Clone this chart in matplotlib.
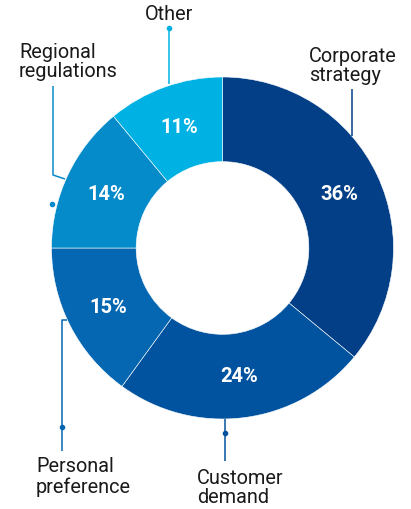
import numpy as np
import matplotlib.pyplot as plt

categories = ["Corporate\nstrategy", "Customer\ndemand", "Personal\npreference",
              "Regional\nregulations", "Other"]
shares = [36, 24, 15, 14, 11]
colors = ["#033f86", "#02539f", "#0567b1", "#058bc9", "#00b1e3"]

fig = plt.figure(figsize=(4.11, 5.10), dpi=100)
ax = fig.add_axes([0, 0, 1, 1])

# axes run in pixel units with y pointing down, so angles are mirrored:
# start at -90 and go counter-clockwise in data space = clockwise from top on screen
cx, cy, r = 222.5, 249, 171
ring = r * 0.495
wedges, _ = ax.pie(shares, colors=colors, startangle=-90, counterclock=True,
                   center=(cx, cy), radius=r,
                   wedgeprops=dict(width=ring, linewidth=0.4, edgecolor="white"))

for w, v in zip(wedges, shares):
    ang = np.deg2rad((w.theta1 + w.theta2) / 2)
    rm = r - ring / 2
    ax.text(cx + rm * np.cos(ang), cy + rm * np.sin(ang), f"{v}%",
            ha="center", va="center", color="white", fontsize=14.5,
            fontweight="bold", family="Roboto")

ax.set_xlim(0, 411)
ax.set_ylim(510, 0)
ax.set_aspect("equal")
ax.axis("off")

# leader lines: (path x, path y, dot position, colour)
leaders = [
    ([352, 352], [137, 90], None, colors[0]),
    ([225, 225], [420, 462], (225, 434), colors[1]),
    ([67, 62, 62], [321, 321, 452], (62, 428), colors[2]),
    ([65, 53, 53], [180, 176, 87], (52, 205), colors[3]),
    ([169, 169], [85, 29], (169, 29), colors[4]),
]
for xs, ys, dot, c in leaders:
    ax.plot(xs, ys, color=c, linewidth=1.1, solid_capstyle="butt")
    if dot:
        ax.plot(*dot, "o", color=c, markersize=3)

lab_kw = dict(fontsize=14.3, color="#1a1a1a", family="Roboto", linespacing=1.05)
ax.text(309, 66, categories[0], ha="left", va="center", **lab_kw)
ax.text(197, 488, categories[1], ha="left", va="center", **lab_kw)
ax.text(36, 477, categories[2], ha="left", va="center", **lab_kw)
ax.text(19, 62, categories[3], ha="left", va="center", **lab_kw)
ax.text(169, 15, categories[4], ha="center", va="center", **lab_kw)

fig.savefig("out.png", dpi=100)
